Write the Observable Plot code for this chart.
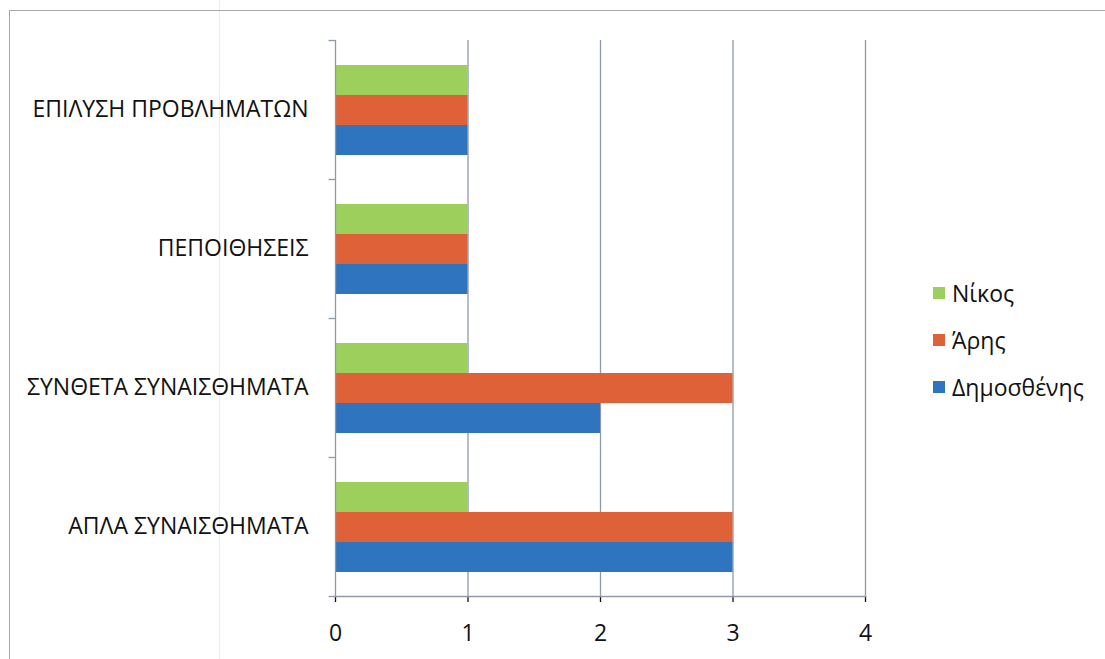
<!DOCTYPE html>
<html>
<head>
<meta charset="utf-8">
<script src="https://cdn.jsdelivr.net/npm/d3@7"></script>
<script src="https://cdn.jsdelivr.net/npm/@observablehq/plot@0.6"></script>
<style>
  html, body { margin: 0; padding: 0; background: #fff; }
  #wrap { position: relative; width: 1105px; height: 659px; overflow: hidden; font-family: "Open Sans", sans-serif; }
  #border { position: absolute; left: 9px; top: 10px; width: 1200px; height: 800px; border-left: 1px solid #a8a8a8; border-top: 1px solid #a8a8a8; }
  #artifact { position: absolute; left: 219px; top: 0; width: 1px; height: 659px; background: #ececf0; }
  #chart { position: absolute; left: 0; top: 0; }
  #legend { position: absolute; left: 933px; top: 277px; font-size: 23px; color: #111; }
  .item { display: flex; align-items: center; height: 32px; margin-bottom: 15px; }
  .sw { width: 12px; height: 12px; margin-right: 7px; }
</style>
</head>
<body>
<div id="wrap">
  <div id="artifact"></div>
  <div id="border"></div>
  <div id="chart"></div>
  <div id="legend"></div>
</div>
<script>
const categories = ["ΕΠΙΛΥΣΗ ΠΡΟΒΛΗΜΑΤΩΝ", "ΠΕΠΟΙΘΗΣΕΙΣ", "ΣΥΝΘΕΤΑ ΣΥΝΑΙΣΘΗΜΑΤΑ", "ΑΠΛΑ ΣΥΝΑΙΣΘΗΜΑΤΑ"];
const series = ["Νίκος", "Άρης", "Δημοσθένης"];
const nikos = [1, 1, 1, 1];
const aris = [1, 1, 3, 3];
const dimosthenis = [1, 1, 2, 3];
const xTicks = [0, 1, 2, 3, 4];
const gridValues = [1, 2, 3, 4];
const colors = ["#9ccf5c", "#de6138", "#2f74be"];

const seriesValues = [nikos, aris, dimosthenis];
const data = [];
categories.forEach((c, i) => {
  series.forEach((s, j) => data.push({category: c, series: s, value: seriesValues[j][i]}));
});

const axisColor = "#8e9aa8";
const tickSymbol = {
  draw(ctx, size) {
    const r = Math.sqrt(size / Math.PI);
    ctx.moveTo(-r, 0);
    ctx.lineTo(0, 0);
  }
};

const chart = Plot.plot({
  width: 1105,
  height: 659,
  marginLeft: 335,
  marginRight: 240,
  marginTop: 38,
  marginBottom: 62,
  style: {fontFamily: "Open Sans, sans-serif", fontSize: "23px", color: "#111", background: "transparent", overflow: "visible"},
  x: {domain: [0, 4], ticks: xTicks, tickFormat: d3.format("d"), tickSize: 6, tickPadding: 22, label: null},
  y: {domain: series, paddingInner: 0, paddingOuter: 0.75, axis: null},
  fy: {domain: categories, padding: 0, tickSize: 0, tickPadding: 27, label: null},
  color: {domain: series, range: colors},
  marks: [
    Plot.ruleX(gridValues, {stroke: axisColor, strokeWidth: 1.3}),
    Plot.barX(data, {x: "value", y: "series", fy: "category", fill: "series"}),
    Plot.ruleX([0], {stroke: axisColor, strokeWidth: 1.3}),
    Plot.frame({anchor: "bottom", facetAnchor: "bottom", stroke: axisColor, strokeWidth: 1.5}),
    Plot.dot(categories, {fy: d => d, frameAnchor: "top-left", symbol: tickSymbol, r: 7, stroke: axisColor, fill: "none", strokeWidth: 1.3}),
    Plot.dot(categories.slice(-1), {fy: d => d, frameAnchor: "bottom-left", symbol: tickSymbol, r: 7, stroke: axisColor, fill: "none", strokeWidth: 1.3})
  ]
});
document.getElementById("chart").appendChild(chart);

// colour the x-axis ticks like the gridlines
d3.select(chart).selectAll("g[aria-label='x-axis tick']").attr("stroke", axisColor).attr("stroke-width", 1.3);

const legend = document.getElementById("legend");
series.forEach((s, j) => {
  const item = document.createElement("div");
  item.className = "item";
  const sw = document.createElement("div");
  sw.className = "sw";
  sw.style.background = colors[j];
  const label = document.createElement("span");
  label.textContent = s;
  item.appendChild(sw);
  item.appendChild(label);
  legend.appendChild(item);
});
</script>
</body>
</html>
